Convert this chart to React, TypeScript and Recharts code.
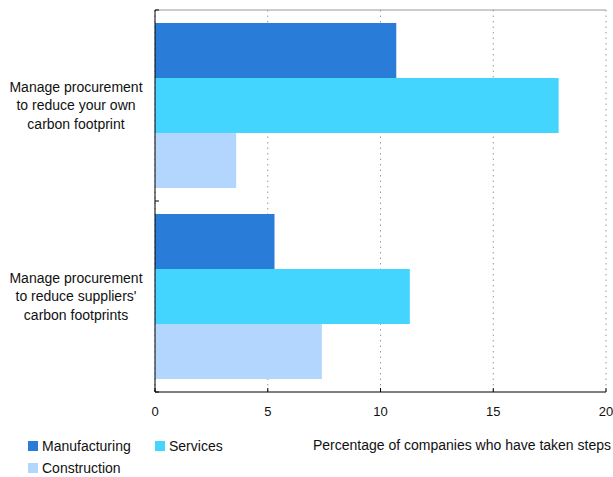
import { BarChart, Bar, XAxis, YAxis, CartesianGrid } from "recharts";

const categoryLines = [
  ["Manage procurement", "to reduce your own", "carbon footprint"],
  ["Manage procurement", "to reduce suppliers'", "carbon footprints"],
];
const categories = categoryLines.map((l) => l.join(" "));
const manufacturing = [10.7, 5.3];
const services = [17.9, 11.3];
const construction = [3.6, 7.4];
const xTicks = [0, 5, 10, 15, 20];

const seriesNames = ["Manufacturing", "Services", "Construction"];
const colors = ["#297cd7", "#43d5fe", "#b2d6fe"];

const data = categories.map((c, i) => ({
  category: c,
  manufacturing: manufacturing[i],
  services: services[i],
  construction: construction[i],
}));

const FONT = '"Liberation Sans", Arial, sans-serif';

function CategoryTick(props: any) {
  const { y, payload } = props;
  const idx = categories.indexOf(payload.value);
  const lines = categoryLines[idx] || [payload.value];
  const lh = 18.5;
  const start = -((lines.length - 1) * lh) / 2;
  return (
    <text x={76} y={y} textAnchor="middle" fontSize={14} fill="#111" fontFamily={FONT}>
      {lines.map((ln, i) => (
        <tspan key={i} x={76} y={y + start + i * lh} dy="0.35em">
          {ln}
        </tspan>
      ))}
    </text>
  );
}

function LegendItem({ name, color, left, top }: { name: string; color: string; left: number; top: number }) {
  return (
    <div style={{ position: "absolute", left, top, display: "flex", alignItems: "center", fontSize: 14, fontFamily: FONT, color: "#111", lineHeight: "16px" }}>
      <span style={{ width: 10, height: 10, background: color, marginRight: 4, display: "inline-block" }} />
      {name}
    </div>
  );
}

export default function App() {
  return (
    <div style={{ position: "absolute", left: 0, top: 0, width: 613, height: 477, background: "#fff" }}>
      <BarChart
        width={613}
        height={477}
        data={data}
        layout="vertical"
        margin={{ top: 10, right: 7, bottom: 55, left: 0 }}
        barGap={0}
        barCategoryGap={13}
      >
        <CartesianGrid horizontal={false} stroke="#999" strokeDasharray="1.5 4" />
        <CartesianGrid
          vertical={false}
          stroke="#999"
          horizontalCoordinatesGenerator={({ offset }: any) => [offset.top]}
        />
        <CartesianGrid
          vertical={false}
          stroke="#000"
          strokeDasharray="4 2000"
          horizontalCoordinatesGenerator={({ offset }: any) => [offset.top, offset.top + offset.height / 2, offset.top + offset.height]}
        />
        <XAxis
          type="number"
          domain={[0, 20]}
          ticks={xTicks}
          height={30}
          axisLine={{ stroke: "#000" }}
          tickLine={{ stroke: "#000" }}
          tickSize={-4}
          tickMargin={19}
          tick={{ fontSize: 13, fill: "#111", fontFamily: FONT }}
        />
        <YAxis
          type="category"
          dataKey="category"
          width={155}
          axisLine={{ stroke: "#000" }}
          tickLine={false}
          tick={<CategoryTick />}
        />
        <Bar dataKey="manufacturing" name={seriesNames[0]} fill={colors[0]} isAnimationActive={false} />
        <Bar dataKey="services" name={seriesNames[1]} fill={colors[1]} isAnimationActive={false} />
        <Bar dataKey="construction" name={seriesNames[2]} fill={colors[2]} isAnimationActive={false} />
      </BarChart>
      <LegendItem name={seriesNames[0]} color={colors[0]} left={28} top={438} />
      <LegendItem name={seriesNames[1]} color={colors[1]} left={155} top={438} />
      <LegendItem name={seriesNames[2]} color={colors[2]} left={28} top={460} />
      <div style={{ position: "absolute", right: 2, top: 437, fontSize: 14, fontFamily: FONT, color: "#111", whiteSpace: "nowrap", lineHeight: "16px" }}>
        Percentage of companies who have taken steps
      </div>
    </div>
  );
}
